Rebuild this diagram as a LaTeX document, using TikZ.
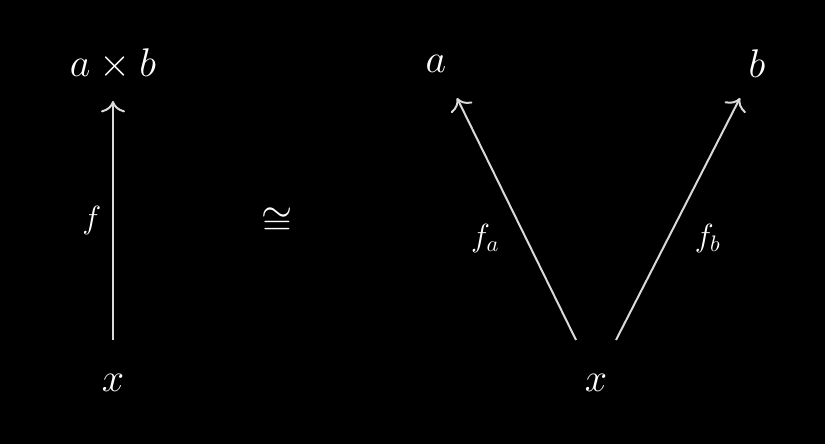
\RequirePackage{fix-cm}
\documentclass[tikz,border=0pt]{standalone}
\usepackage{amsmath}
\usepackage{tikz}
\usetikzlibrary{positioning, arrows.meta}

\definecolor{arrowgray}{gray}{0.85}

\begin{document}
\begin{tikzpicture}[
    every node/.style={text=white},
    obj/.style={font=\fontsize{20}{24}\selectfont},
    lbl/.style={font=\fontsize{16}{19}\selectfont},
    mor/.style={draw=arrowgray, line width=1pt, -{To[scale=1.5]}},
    on grid
  ]
    \fill[black] (0,0) rectangle (412.5pt,222pt);
    \useasboundingbox (0,0) rectangle (412.5pt,222pt);

    \node[obj] (AB) at (56.5pt,190pt) {$a \times b$};
    \node[obj, below=159.5pt of AB] (XL) {$x$};
    \node[obj, base right=161.5pt of AB] (A) {$a$};
    \node[obj, base right=160.5pt of A] (B) {$b$};
    \node[obj, right=241.5pt of XL] (XR) {$x$};
    \node[obj, below right=79pt and 82pt of AB] (C) {$\cong$};

    \draw[mor] ([yshift=21.5pt]XL.center) -- node[lbl, left=2pt] {$f$} ([yshift=-18.5pt]AB.center);
    \draw[mor] ([shift={(-10pt,21.5pt)}]XR.center) -- node[lbl, pos=0.42, left=9.5pt] {$f_a$} ([shift={(10.5pt,-17pt)}]A.center);
    \draw[mor] ([shift={(10pt,21.5pt)}]XR.center) -- node[lbl, pos=0.42, right=9.5pt] {$f_b$} ([shift={(-8.5pt,-17pt)}]B.center);
\end{tikzpicture}
\end{document}
